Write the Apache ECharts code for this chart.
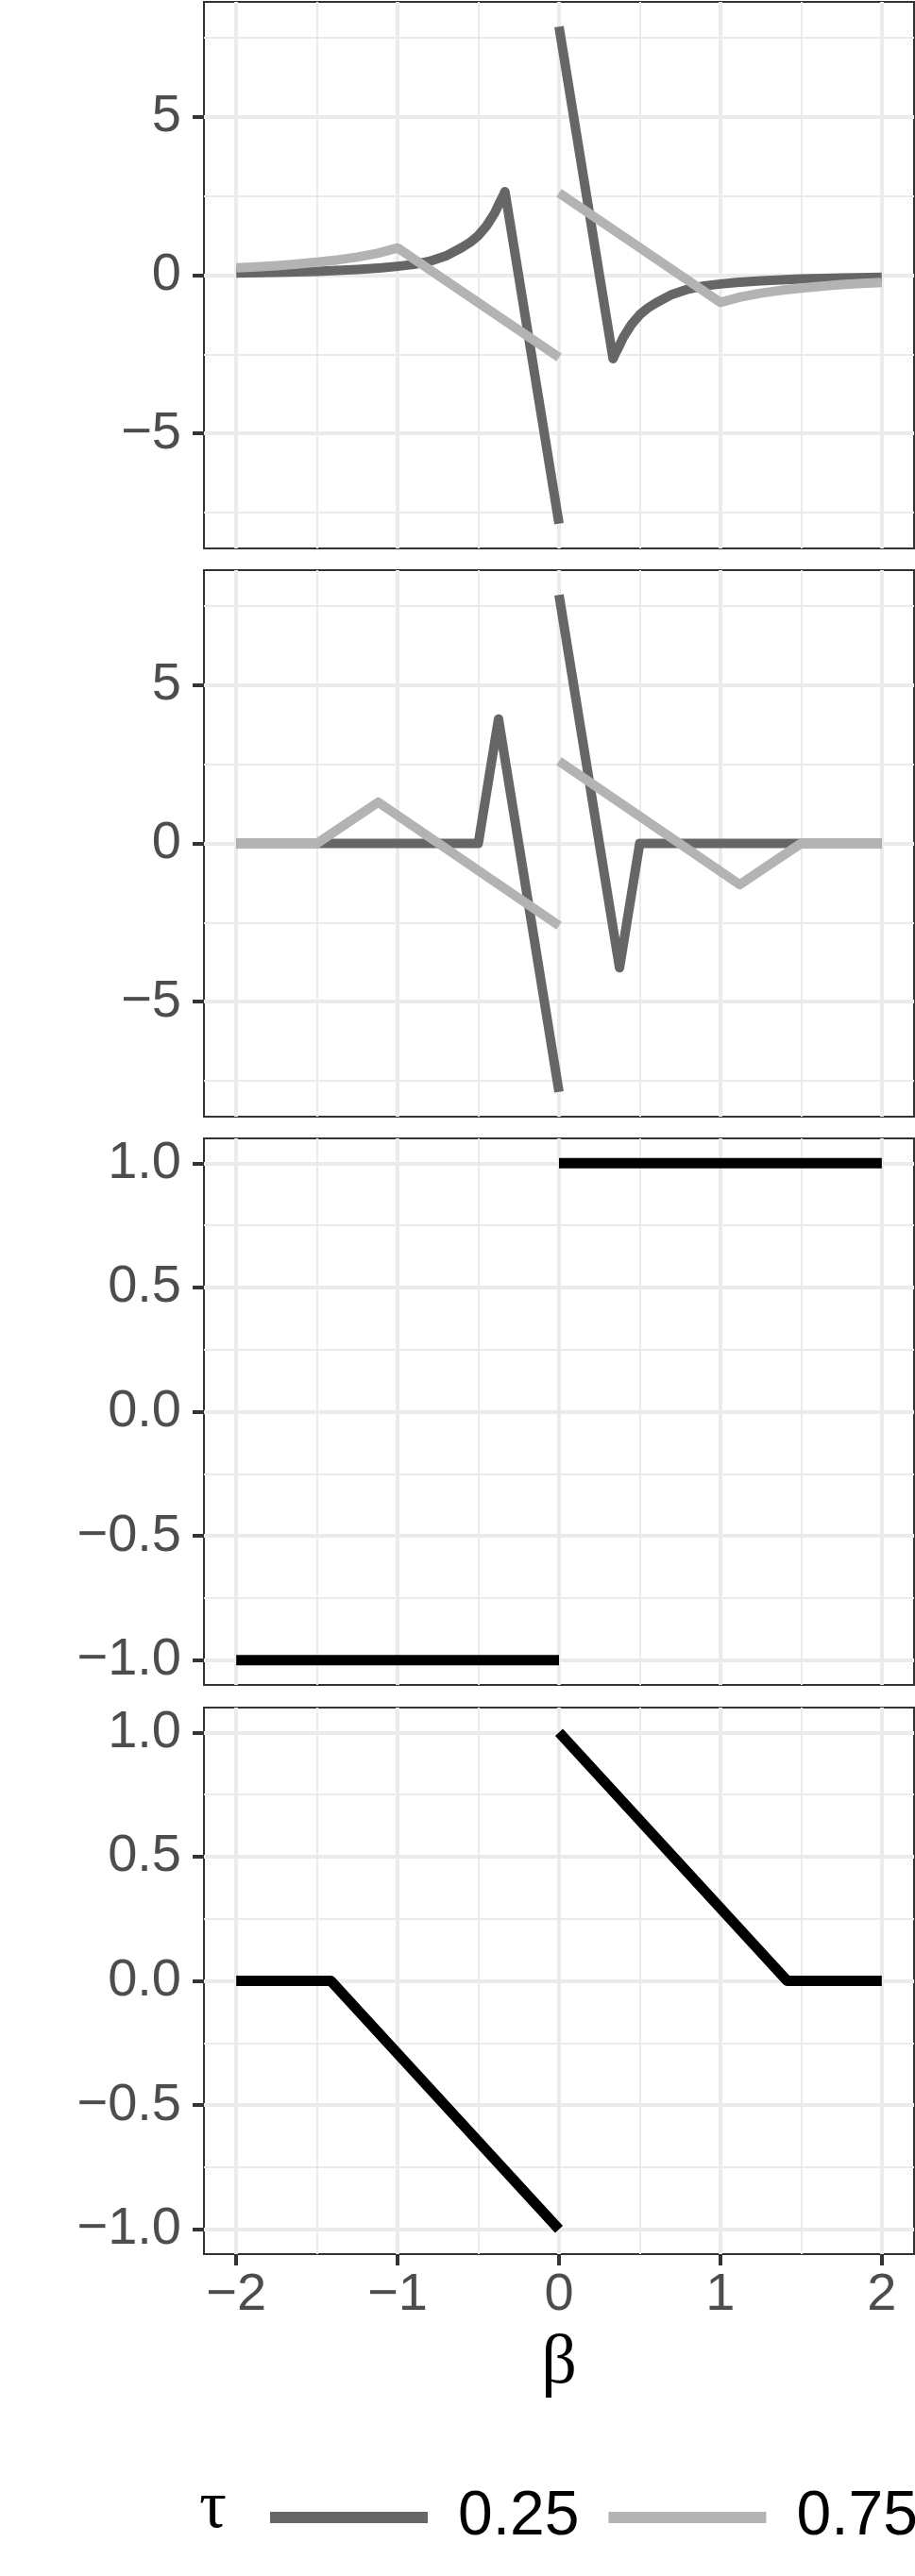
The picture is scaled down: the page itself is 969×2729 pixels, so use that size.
<!DOCTYPE html>
<html><head><meta charset="utf-8">
<script src="https://cdn.jsdelivr.net/npm/echarts@6/dist/echarts.min.js"></script>
<style>html,body{margin:0;padding:0;background:#fff}#c{width:969px;height:2729px}</style>
</head><body><div id="c"></div>
<script>
// ---------- data ----------
const tauLabels = ['0.25', '0.75'];
const xTicks = [-2, -1, 0, 1, 2];
const xMinor = [-1.5, -0.5, 0.5, 1.5];
const yTicksA = [-5, 0, 5];
const yMinorA = [-7.5, -2.5, 2.5, 7.5];
const yTicksB = [-1, -0.5, 0, 0.5, 1];
const yMinorB = [-0.75, -0.25, 0.25, 0.75];

// panel 1
const p1DarkL = [[-2,0.07],[-1.75,0.09],[-1.5,0.12],[-1.25,0.18],[-1.1,0.23],[-1,0.28],[-0.9,0.34],[-0.8,0.44],[-0.7,0.61],[-0.6,0.88],[-0.55,1.04],[-0.5,1.25],[-0.45,1.55],[-0.4,1.95],[-0.37,2.27],[-0.35,2.47],[-0.335,2.64],[0,-7.85]];
const p1DarkR = [[0,7.85],[0.335,-2.64],[0.35,-2.47],[0.37,-2.27],[0.4,-1.95],[0.45,-1.55],[0.5,-1.25],[0.55,-1.04],[0.6,-0.88],[0.7,-0.61],[0.8,-0.44],[0.9,-0.34],[1,-0.28],[1.1,-0.23],[1.25,-0.18],[1.5,-0.12],[1.75,-0.09],[2,-0.07]];
const p1LightL = [[-2,0.23],[-1.875,0.26],[-1.75,0.3],[-1.625,0.35],[-1.5,0.41],[-1.375,0.48],[-1.25,0.57],[-1.125,0.69],[-1,0.86],[0,-2.6]];
const p1LightR = [[0,2.6],[1,-0.86],[1.125,-0.69],[1.25,-0.57],[1.375,-0.48],[1.5,-0.41],[1.625,-0.35],[1.75,-0.3],[1.875,-0.26],[2,-0.23]];
// panel 2
const p2DarkL = [[-2,0],[-0.5,0],[-0.375,3.93],[0,-7.85]];
const p2DarkR = [[0,7.85],[0.375,-3.93],[0.5,0],[2,0]];
const p2LightL = [[-2,0],[-1.5,0],[-1.12,1.3],[0,-2.6]];
const p2LightR = [[0,2.6],[1.12,-1.3],[1.5,0],[2,0]];
// panel 3
const p3L = [[-2,-1],[0,-1]];
const p3R = [[0,1],[2,1]];
// panel 4
const p4L = [[-2,0],[-1.414,0],[0,-1]];
const p4R = [[0,1],[1.414,0],[2,0]];

// ---------- layout / style ----------
const tops = [2, 604, 1206, 1809];
const panelH = 579;
const DARK = '#666666', LIGHT = '#B3B3B3', BLACK = '#000000';
const SANS = '"Liberation Sans", Arial, Helvetica, sans-serif';
const SERIF = '"Liberation Serif", "Times New Roman", serif';
const fmt = (dec) => (v) => (v < 0 ? '\u2212' : '') + Math.abs(v).toFixed(dec);

const grids = [], xAxes = [], yAxes = [], series = [];
const yRange = [[-8.635, 8.635], [-8.635, 8.635], [-1.1, 1.1], [-1.1, 1.1]];
const yMaj = [yTicksA, yTicksA, yTicksB, yTicksB];
const yMin = [yMinorA, yMinorA, yMinorB, yMinorB];
const yDec = [0, 0, 1, 1];

for (let i = 0; i < 4; i++) {
  grids.push({left: 216, right: 1, top: tops[i], height: panelH, show: true,
    borderColor: '#333333', borderWidth: 2, backgroundColor: 'transparent'});
  const last = i === 3;
  xAxes.push({gridIndex: i, type: 'value', min: -2.2, max: 2.2, position: 'bottom',
    axisLine: {show: false, onZero: false},
    axisTick: {show: last, customValues: xTicks, length: 12, lineStyle: {color: '#333333', width: 4}},
    axisLabel: {show: last, customValues: xTicks, formatter: fmt(0), margin: 16,
      fontSize: 56, color: '#4D4D4D', fontFamily: SANS},
    splitLine: {show: true, lineStyle: {color: '#EBEBEB', width: 4}},
    name: last ? 'β' : '', nameLocation: 'middle', nameGap: 80,
    nameTextStyle: {fontSize: 74, color: '#000', fontFamily: SERIF}
  });
  xAxes.push({gridIndex: i, type: 'value', min: -2.2, max: 2.2, position: 'top',
    axisLine: {show: false, onZero: false},
    axisTick: {show: false, customValues: xMinor},
    axisLabel: {show: false},
    splitLine: {show: true, lineStyle: {color: '#EBEBEB', width: 2}}
  });
  yAxes.push({gridIndex: i, type: 'value', min: yRange[i][0], max: yRange[i][1], position: 'left',
    axisLine: {show: false, onZero: false},
    axisTick: {show: true, customValues: yMaj[i], length: 12, lineStyle: {color: '#333333', width: 4}},
    axisLabel: {show: true, customValues: yMaj[i], formatter: fmt(yDec[i]), margin: 24,
      fontSize: 56, color: '#4D4D4D', fontFamily: SANS},
    splitLine: {show: true, lineStyle: {color: '#EBEBEB', width: 4}}
  });
  yAxes.push({gridIndex: i, type: 'value', min: yRange[i][0], max: yRange[i][1], position: 'right',
    axisLine: {show: false, onZero: false},
    axisTick: {show: false, customValues: yMin[i]},
    axisLabel: {show: false},
    splitLine: {show: true, lineStyle: {color: '#EBEBEB', width: 2}}
  });
}

function seg(data, gi, color, name, width) {
  series.push({type: 'line', name: name, data: data, xAxisIndex: 2 * gi, yAxisIndex: 2 * gi,
    showSymbol: false, symbol: 'none', clip: true, silent: true,
    itemStyle: {color: color},
    lineStyle: {color: color, width: width, cap: 'butt', join: 'round'}});
}
seg(p1DarkL, 0, DARK, tauLabels[0], 10);
seg(p1DarkR, 0, DARK, tauLabels[0], 10);
seg(p1LightL, 0, LIGHT, tauLabels[1], 10);
seg(p1LightR, 0, LIGHT, tauLabels[1], 10);
seg(p2DarkL, 1, DARK, tauLabels[0], 10);
seg(p2DarkR, 1, DARK, tauLabels[0], 10);
seg(p2LightL, 1, LIGHT, tauLabels[1], 10);
seg(p2LightR, 1, LIGHT, tauLabels[1], 10);
seg(p3L, 2, BLACK, 'sign', 11);
seg(p3R, 2, BLACK, 'sign', 11);
seg(p4L, 3, BLACK, 'soft', 11);
seg(p4R, 3, BLACK, 'soft', 11);

const chart = echarts.init(document.getElementById('c'), null, {renderer: 'canvas'});
chart.setOption({
  animation: false,
  backgroundColor: '#ffffff',
  title: {text: 'τ', left: 211, top: 2622, padding: 0,
    textStyle: {fontSize: 72, fontWeight: 'normal', color: '#000', fontFamily: SERIF}},
  legend: {data: tauLabels, left: 286, top: 2634, width: 900, padding: 0, orient: 'horizontal', icon: 'rect',
    itemWidth: 167, itemHeight: 12, itemGap: 31, selectedMode: false,
    itemStyle: {borderWidth: 0},
    textStyle: {fontSize: 66, color: '#000', fontFamily: SANS, padding: [0, 0, 0, 27]}},
  grid: grids, xAxis: xAxes, yAxis: yAxes, series: series
});
</script></body></html>
